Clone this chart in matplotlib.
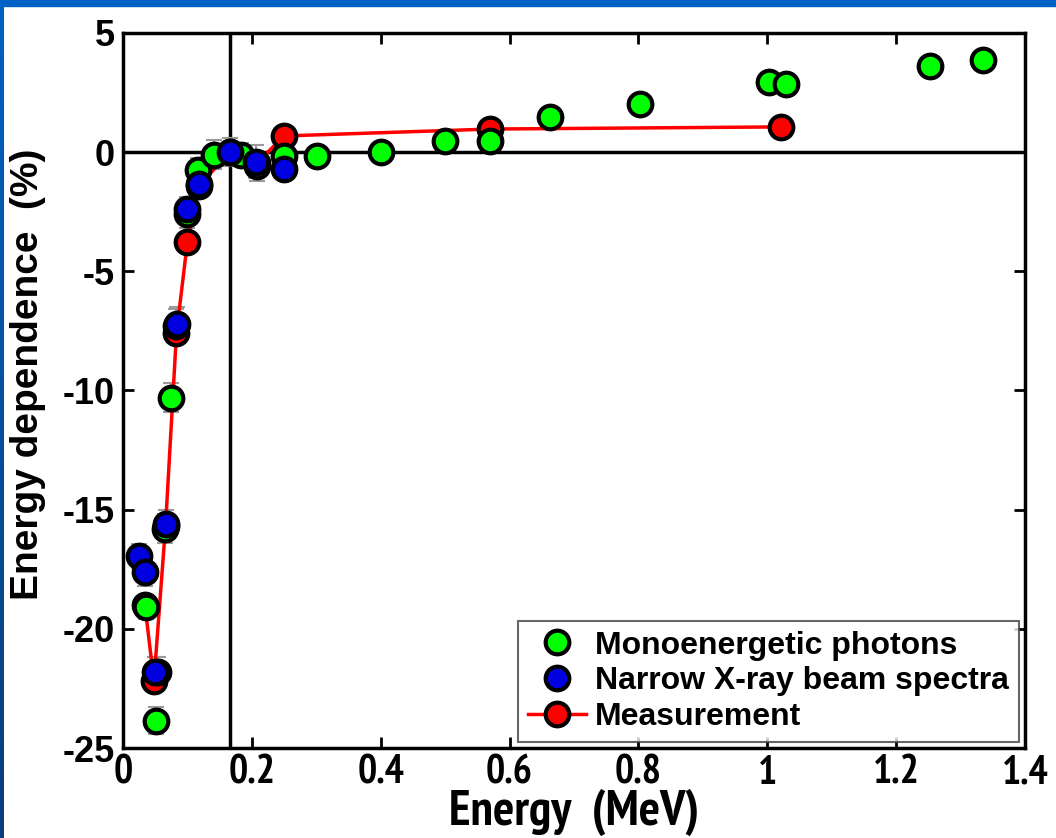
import numpy as np
import matplotlib.pyplot as plt
from matplotlib import font_manager
from matplotlib.font_manager import FontProperties
from matplotlib.patches import Rectangle
from matplotlib.colors import LinearSegmentedColormap

# Monoenergetic photons
mono_e = [0.036, 0.051, 0.054, 0.065, 0.075, 0.082, 0.099, 0.116, 0.141, 0.183,
          0.208, 0.25, 0.301, 0.40, 0.50, 0.57, 0.663, 0.802, 1.003, 1.029, 1.252, 1.335]
mono_d = [-19.1, -23.85, -21.8, -15.8, -10.3, -7.3, -2.6, -0.75, -0.1, -0.1,
          -0.6, -0.15, -0.15, 0.0, 0.47, 0.47, 1.47, 2.0, 2.95, 2.88, 3.62, 3.86]
mono_err = [0.5, 0.55, 0.6, 0.6, 0.6, 0.7, 0.6, 0.5, 0.6, 0.5,
            0.6, 0.3, 0.3, 0.3, 0.3, 0.3, 0.3, 0.3, 0.3, 0.3, 0.3, 0.3]

# Narrow X-ray beam spectra
narrow_e = [0.025, 0.034, 0.050, 0.067, 0.084, 0.099, 0.118, 0.166, 0.207, 0.25]
narrow_d = [-16.95, -17.6, -21.8, -15.6, -7.2, -2.4, -1.35, 0.0, -0.4, -0.7]
narrow_err = [0.5, 0.6, 0.6, 0.6, 0.7, 0.5, 0.5, 0.6, 0.7, 0.3]

# Measurement
meas_e = [0.034, 0.048, 0.066, 0.083, 0.100, 0.118, 0.166, 0.208, 0.25, 0.57, 1.022]
meas_d = [-19.0, -22.2, -15.7, -7.6, -3.75, -1.4, 0.0, -0.45, 0.68, 0.97, 1.06]

x_ticks = [0, 0.2, 0.4, 0.6, 0.8, 1.0, 1.2, 1.4]
x_labels = ['0', '0.2', '0.4', '0.6', '0.8', '1', '1.2', '1.4']
y_ticks = [-25, -20, -15, -10, -5, 0, 5]
ref_energy = 0.166

plt.rcParams['font.family'] = ['Liberation Sans', 'DejaVu Sans']
plt.rcParams['font.weight'] = 'bold'
plt.rcParams['axes.unicode_minus'] = False

# a narrow bold face for the x axis texts, best one that is installed
def narrow_rank(f):
    if 'Liberation Sans Narrow' in f.name:
        return 0
    if 'Narrow' in f.name:
        return 1
    if 'Condensed' in f.name:
        return 2
    return 3

narrow_file = None
cands = []
for f in font_manager.fontManager.ttflist:
    is_narrow = 'Narrow' in f.name or 'Condensed' in f.name or f.stretch in ('condensed', 'semi-condensed', 400)
    is_bold = f.weight in ('bold', 700, 'heavy', 800)
    if is_narrow and is_bold and 'Mono' not in f.name and 'Serif' not in f.name:
        cands.append(f)
if cands:
    cands.sort(key=narrow_rank)
    narrow_file = cands[0].fname


def x_font(size):
    if narrow_file:
        return FontProperties(fname=narrow_file, size=size)
    return FontProperties(family='Liberation Sans', weight='bold', size=size * 0.75)


fig = plt.figure(figsize=(10.56, 8.38), dpi=100)
fig.patch.set_facecolor('white')

# slide border (blue strips)
grad = LinearSegmentedColormap.from_list('b', ['#0a3e78', '#0062c4'])
left_ax = fig.add_axes([0, 0, 4 / 1056, 1])
left_ax.imshow(np.linspace(0, 1, 100).reshape(-1, 1), aspect='auto', cmap=grad, origin='lower')
left_ax.axis('off')
fig.patches.append(Rectangle((0, 1 - 6 / 838), 1, 6 / 838, transform=fig.transFigure,
                             color='#0062c4', zorder=5))

ax = fig.add_axes([123 / 1056, 1 - 748 / 838, (1025 - 123) / 1056, (748 - 33) / 838])

ax.axhline(0, color='black', linewidth=2.5, zorder=1)
ax.axvline(ref_energy, color='black', linewidth=2.5, zorder=1)

ax.errorbar(mono_e, mono_d, yerr=mono_err, fmt='none', ecolor='#9a9a9a',
            elinewidth=1.5, capsize=6, capthick=1.5, zorder=2)
ax.errorbar(narrow_e, narrow_d, yerr=narrow_err, fmt='none', ecolor='#9a9a9a',
            elinewidth=1.5, capsize=6, capthick=1.5, zorder=2)

ax.plot(meas_e, meas_d, '-o', color='#ff0000', linewidth=2.5, markersize=17,
        markerfacecolor='#ff0000', markeredgecolor='black', markeredgewidth=3,
        label='Measurement', zorder=3)
ax.plot(mono_e, mono_d, 'o', markersize=17, markerfacecolor='#00ff00',
        markeredgecolor='black', markeredgewidth=3,
        label='Monoenergetic photons', zorder=4)
ax.plot(narrow_e, narrow_d, 'o', markersize=17, markerfacecolor='#0000e0',
        markeredgecolor='black', markeredgewidth=3,
        label='Narrow X-ray beam spectra', zorder=5)

ax.set_xlim(0, 1.4)
ax.set_ylim(-25, 5)
ax.set_xticks(x_ticks)
ax.set_xticklabels(x_labels, fontproperties=x_font(29))
ax.set_yticks(y_ticks)
ax.tick_params(direction='in', length=8, width=2, top=True, right=True, pad=5)
ax.tick_params(axis='y', labelsize=26, pad=6)
for s in ax.spines.values():
    s.set_linewidth(2.5)

ax.set_xlabel('Energy  (MeV)', fontproperties=x_font(36), labelpad=-2)
ax.set_ylabel('Energy dependence  (%)', fontsize=28, fontweight='bold')
ax.yaxis.set_label_coords(-0.085, 0.522)

handles, labels = ax.get_legend_handles_labels()
order = [1, 2, 0]
leg = ax.legend([handles[i] for i in order], [labels[i] for i in order],
                loc='lower right', fontsize=23, frameon=True, fancybox=False,
                edgecolor='#404040', borderaxespad=0.2, handlelength=1.8,
                handletextpad=0.3, labelspacing=0.18, borderpad=0.3)
leg.get_frame().set_linewidth(1.5)

fig.savefig('out.png', dpi=100)
